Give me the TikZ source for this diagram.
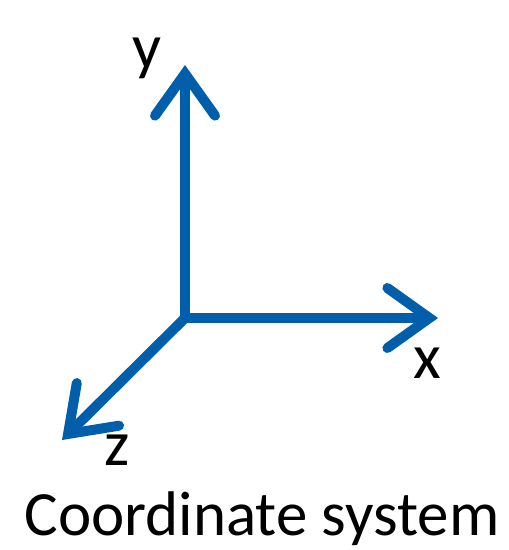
\documentclass[tikz,border=0pt]{standalone}
\usepackage{fontspec}
\setmainfont{Carlito}
\usetikzlibrary{arrows.meta}
\definecolor{axisblue}{RGB}{0,94,170}
\tikzset{
  axisline/.style={draw=axisblue, line width=10pt, line cap=round,
    -{Straight Barb[length=42pt, width=60pt, line cap=round, line join=miter]}},
  axislabel/.style={font=\fontsize{64}{64}\selectfont, inner sep=0pt, anchor=base},
  captiontext/.style={font=\fontsize{63}{63}\selectfont, inner sep=0pt, anchor=base},
}
\begin{document}
\begin{tikzpicture}[x=1pt, y=-1pt]
  \useasboundingbox (0,0) rectangle (509,550);
  % origin and axis ends
  \coordinate (origin) at (185,318);
  \coordinate (ytip) at (185,65);
  \coordinate (xtip) at (438,318);
  \coordinate (ztip) at (62,440);

  % axes
  \draw[axisline] (origin) -- (ytip);
  \draw[axisline] (origin) -- (xtip);
  \draw[axisline] (origin) -- (ztip);

  % labels
  \node[axislabel] (ylabel) at (147,68) {y};
  \node[axislabel] (xlabel) at (427,378) {x};
  \node[axislabel] (zlabel) at (117,465) {z};
  \node[captiontext] (caption) at (262,535) {Coordinate system};
\end{tikzpicture}
\end{document}
